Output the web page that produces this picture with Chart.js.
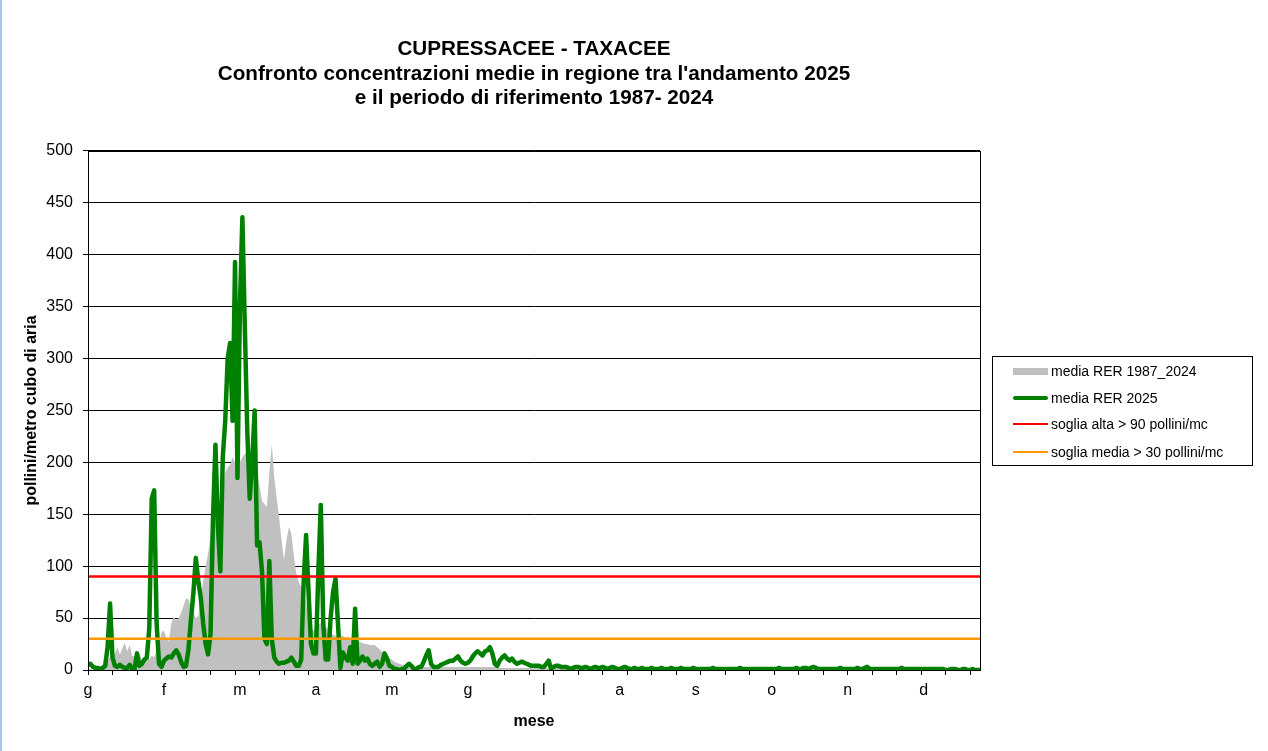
<!DOCTYPE html>
<html>
<head>
<meta charset="utf-8">
<script src="https://cdn.jsdelivr.net/npm/chart.js@4"></script>
<style>
  body { margin: 0; background: #fff; font-family: "Liberation Sans", Arial, sans-serif; }
  #wrap { position: relative; width: 1268px; height: 751px; }
  #bordo { position: absolute; left: 0; top: 0; width: 2px; height: 751px; background: #a9c6ee; }
  #legenda { position: absolute; left: 992px; top: 356px; width: 259px; height: 108px; border: 1px solid #000; font-size: 14px; color: #000; }
  .voce { position: absolute; left: 20px; height: 20px; display: flex; align-items: center; }
  .voce span.sw { display: inline-block; width: 35px; margin-right: 3px; }
</style>
</head>
<body>
<div id="wrap">
  <canvas id="grafico" width="1268" height="751"></canvas>
  <div id="bordo"></div>
  <div id="legenda">
    <div class="voce" style="top:4px"><span class="sw" style="height:7px;background:#c0c0c0"></span>media RER 1987_2024</div>
    <div class="voce" style="top:31px"><span class="sw" style="height:4px;background:#008000;border-radius:2px"></span>media RER 2025</div>
    <div class="voce" style="top:57px"><span class="sw" style="height:2px;background:#ff0000"></span>soglia alta &gt; 90 pollini/mc</div>
    <div class="voce" style="top:85px"><span class="sw" style="height:2px;background:#ff9900"></span>soglia media &gt; 30 pollini/mc</div>
  </div>
</div>
<script>
// etichette dei mesi (una ogni 31 giorni sull'asse)
const mesi = ['g', 'f', 'm', 'a', 'm', 'g', 'l', 'a', 's', 'o', 'n', 'd']

// media regionale 1987-2024, un valore al giorno (365)
const media8724 = [
  1, 1, 0, 1, 2, 2, 3, 6, 10, 12, 14, 16, 22, 15, 21, 26, 18, 24, 14, 13,
  12, 15, 10, 9, 12, 10, 14, 12, 18, 25, 36, 38, 30, 28, 45, 51, 48, 50, 55, 62,
  69, 68, 60, 55, 50, 52, 70, 85, 100, 112, 130, 150, 155, 160, 165, 172, 190, 195, 198, 205,
  200, 198, 200, 205, 208, 210, 211, 195, 185, 190, 178, 163, 160, 157, 190, 218, 186, 165, 147, 125,
  106, 125, 138, 131, 110, 93, 85, 80, 72, 64, 48, 42, 38, 40, 44, 45, 44, 42, 39, 36,
  34, 33, 32, 32, 33, 31, 32, 30, 30, 29, 28, 27, 26, 25, 25, 24, 24, 24, 22, 20,
  17, 15, 13, 11, 10, 8, 7, 6, 5, 5, 4, 4, 4, 3, 3, 3, 3, 3, 3, 3,
  3, 3, 3, 3, 3, 3, 3, 3, 3, 3, 3, 3, 3, 3, 3, 3, 3, 3, 3, 3,
  3, 3, 3, 3, 3, 3, 3, 3, 2, 2, 2, 2, 2, 2, 2, 2, 2, 2, 2, 2,
  2, 2, 2, 2, 2, 2, 2, 2, 2, 2, 2, 2, 2, 1, 1, 1, 1, 1, 1, 1,
  1, 1, 1, 1, 1, 1, 1, 1, 1, 1, 1, 1, 1, 1, 1, 1, 1, 1, 1, 1,
  1, 1, 1, 0, 0, 0, 0, 0, 0, 0, 0, 0, 0, 0, 0, 0, 0, 0, 0, 0,
  0, 0, 0, 0, 0, 0, 0, 0, 0, 0, 0, 0, 0, 0, 0, 0, 0, 0, 0, 0,
  0, 0, 0, 0, 0, 0, 0, 0, 0, 0, 0, 0, 0, 0, 0, 0, 0, 0, 0, 0,
  0, 0, 0, 0, 0, 0, 0, 0, 0, 0, 0, 0, 0, 0, 0, 0, 0, 0, 0, 0,
  0, 0, 0, 0, 0, 0, 0, 0, 0, 0, 0, 0, 0, 0, 0, 0, 0, 0, 0, 0,
  0, 0, 0, 0, 0, 0, 0, 0, 0, 0, 0, 0, 0, 0, 0, 0, 0, 0, 0, 0,
  0, 0, 0, 0, 0, 0, 0, 0, 0, 0, 0, 0, 0, 0, 0, 0, 0, 0, 0, 0,
  0, 0, 0, 0, 0
]

// media regionale 2025
const media2025 = [
  5, 6, 3, 2, 2, 1, 2, 4, 22, 64, 12, 4, 3, 5, 3, 2, 2, 5, 1, 1,
  16, 4, 6, 10, 12, 40, 165, 173, 45, 6, 3, 9, 11, 13, 12, 16, 19, 15, 8, 3,
  4, 20, 48, 74, 108, 86, 70, 45, 25, 15, 35, 145, 217, 140, 95, 205, 240, 300, 315, 240,
  393, 185, 350, 436, 330, 230, 165, 200, 250, 120, 123, 95, 30, 25, 105, 30, 12, 8, 6, 7,
  7, 8, 9, 12, 8, 4, 4, 10, 85, 130, 75, 25, 16, 16, 95, 159, 45, 10, 10, 50,
  75, 88, 45, 2, 17, 12, 9, 22, 6, 59, 6, 9, 13, 9, 11, 6, 4, 6, 8, 3,
  6, 16, 11, 4, 3, 1, 1, 0, 1, 1, 4, 6, 4, 1, 1, 3, 3, 8, 14, 19,
  6, 3, 3, 3, 5, 6, 7, 8, 9, 9, 11, 13, 9, 7, 6, 7, 9, 13, 16, 18,
  16, 14, 18, 19, 22, 16, 6, 4, 9, 12, 14, 11, 9, 11, 8, 6, 7, 8, 7, 6,
  5, 4, 4, 4, 4, 3, 3, 6, 9, 1, 3, 4, 4, 3, 3, 3, 2, 1, 2, 3,
  3, 2, 2, 3, 2, 1, 2, 3, 2, 2, 3, 2, 1, 2, 3, 2, 1, 1, 2, 3,
  2, 1, 1, 2, 1, 1, 2, 1, 1, 1, 2, 1, 1, 1, 2, 1, 1, 1, 2, 1,
  1, 1, 2, 1, 1, 1, 1, 2, 1, 1, 1, 1, 1, 1, 1, 2, 1, 1, 1, 1,
  1, 1, 1, 1, 1, 1, 2, 1, 1, 1, 1, 1, 1, 1, 1, 1, 1, 1, 1, 1,
  1, 1, 2, 1, 1, 1, 1, 1, 1, 2, 1, 1, 2, 2, 1, 2, 3, 2, 1, 1,
  1, 1, 1, 1, 1, 1, 1, 2, 1, 1, 1, 1, 1, 1, 2, 1, 1, 2, 3, 1,
  1, 1, 1, 1, 1, 1, 1, 1, 1, 1, 1, 1, 2, 1, 1, 1, 1, 1, 1, 1,
  1, 1, 1, 1, 1, 1, 1, 1, 1, 1, 0, 0, 1, 1, 1, 0, 0, 1, 1, 0,
  0, 1, 0, 0, 0
]

const sogliaAlta = 90
const sogliaMedia = 30

const font = "'Liberation Sans', Arial, sans-serif"
const ultimo = media2025.length - 1

const cornice = {
    id: 'cornice',
    afterDatasetsDraw(chart) {
        const a = chart.chartArea
        const ctx = chart.ctx
        ctx.save()
        ctx.strokeStyle = '#000'
        ctx.lineWidth = 1
        ctx.strokeRect(Math.round(a.left) + 0.5, Math.round(a.top) + 0.5, Math.round(a.right - a.left), Math.round(a.bottom - a.top))
        ctx.restore()
    }
}

new Chart(document.querySelector('#grafico'), {
    type: 'line',
    data: {
        datasets: [{
            label: 'media RER 1987_2024',
            data: media8724.map((v, i) => ({ x: i, y: v })),
            backgroundColor: '#c0c0c0',
            borderWidth: 0,
            fill: 'origin',
            pointRadius: 0,
            order: 4
        },
        {
            label: 'media RER 2025',
            data: media2025.map((v, i) => ({ x: i, y: v })),
            borderColor: '#008000',
            borderWidth: 4.5,
            borderJoinStyle: 'round',
            borderCapStyle: 'round',
            pointRadius: 0,
            fill: false,
            order: 3
        },
        {
            label: 'soglia alta > 90 pollini/mc',
            data: [{ x: 0, y: sogliaAlta }, { x: ultimo, y: sogliaAlta }],
            borderColor: '#ff0000',
            borderWidth: 2.5,
            pointRadius: 0,
            fill: false,
            order: 2
        },
        {
            label: 'soglia media > 30 pollini/mc',
            data: [{ x: 0, y: sogliaMedia }, { x: ultimo, y: sogliaMedia }],
            borderColor: '#ff9900',
            borderWidth: 2.5,
            pointRadius: 0,
            fill: false,
            order: 1
        }]
    },
    options: {
        responsive: false,
        animation: false,
        devicePixelRatio: 1,
        layout: {
            padding: { left: 0, right: 288, top: 0, bottom: 0 }
        },
        scales: {
            x: {
                type: 'linear',
                min: 0,
                max: ultimo,
                afterBuildTicks(scale) {
                    const t = []
                    for (let v = 0; v <= ultimo; v++) {
                        if (v % 10 === 0 || (v % 31 === 0 && v / 31 < mesi.length)) t.push({ value: v })
                    }
                    scale.ticks = t
                },
                afterFit(scale) { scale.height = 81 },
                grid: {
                    drawOnChartArea: false,
                    tickLength: 5,
                    tickColor: (c) => (c.tick && c.tick.value % 10 === 0) ? '#000' : 'rgba(0,0,0,0)'
                },
                border: { color: '#000' },
                ticks: {
                    autoSkip: false,
                    maxRotation: 0,
                    padding: 6,
                    color: '#000',
                    font: { family: font, size: 16 },
                    callback: (v) => (v % 31 === 0 && v / 31 < mesi.length) ? mesi[v / 31] : ''
                },
                title: {
                    display: true,
                    text: 'mese',
                    color: '#000',
                    font: { family: font, size: 16, weight: 'bold' },
                    padding: { top: 0, bottom: 20 }
                }
            },
            y: {
                min: 0,
                max: 500,
                afterFit(scale) { scale.width = 88 },
                ticks: {
                    stepSize: 50,
                    padding: 10,
                    color: '#000',
                    font: { family: font, size: 16 }
                },
                grid: {
                    color: '#000',
                    tickLength: 5
                },
                border: { color: '#000' },
                title: {
                    display: true,
                    text: 'pollini/metro cubo di aria',
                    color: '#000',
                    font: { family: font, size: 16, weight: 'bold' },
                    padding: { top: 22, bottom: 0 }
                }
            }
        },
        plugins: {
            legend: { display: false },
            tooltip: { enabled: false },
            title: {
                display: true,
                fullSize: false,
                text: ['CUPRESSACEE - TAXACEE', "Confronto concentrazioni medie in regione tra l'andamento 2025", 'e il periodo di riferimento 1987- 2024'],
                color: '#000',
                font: { family: font, size: 20.7, weight: 'bold', lineHeight: 1.19 },
                padding: { top: 37, bottom: 40 }
            }
        }
    },
    plugins: [cornice]
})
</script>
</body>
</html>
